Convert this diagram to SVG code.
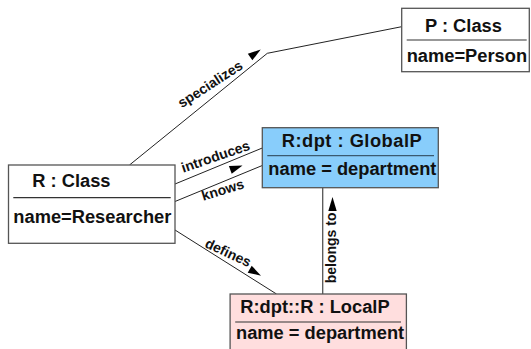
<svg xmlns="http://www.w3.org/2000/svg" width="531" height="349" viewBox="0 0 531 349">
<style>
.box{stroke:#555;stroke-width:1.3}
.sep{stroke:#333;stroke-width:1.2}
.t{font-family:"Liberation Sans",Arial,sans-serif;font-weight:bold;font-size:18.3px;fill:#111}
.lbl{font-family:"Liberation Sans",Arial,sans-serif;font-weight:bold;font-size:14px;fill:#111}
.ln{fill:none;stroke:#222;stroke-width:1}
.ah{fill:#000}
</style>
<rect width="531" height="349" fill="#fff"/>
<g id="connectors">
<polyline class="ln" points="129.5,165 267.3,53.3 401.7,26.7"/>
<line class="ln" x1="175" y1="184" x2="262.3" y2="148"/>
<line class="ln" x1="175" y1="201.5" x2="262.3" y2="165.5"/>
<line class="ln" x1="175" y1="230" x2="276.5" y2="294"/>
<line class="ln" x1="322.7" y1="187.7" x2="322.7" y2="294" style="stroke:#555;stroke-width:1.3"/>
<polygon class="ah" points="260.7,49.5 252.4,60.3 247.8,53.7"/>
<polygon class="ah" points="242.5,165.5 231.7,173.7 228.9,166.1"/>
<polygon class="ah" points="261,275.7 247.7,272.7 251.7,265.7"/>
<polygon class="ah" points="332.5,197 336.7,211 328.3,211"/>
<text class="lbl" transform="translate(181.7,108.3) rotate(-33)">specializes</text>
<text class="lbl" transform="translate(183.3,172.7) rotate(-19)">introduces</text>
<text class="lbl" transform="translate(203.3,200.7) rotate(-17)">knows</text>
<text class="lbl" transform="translate(204,246.7) rotate(25)">defines</text>
<text class="lbl" transform="translate(336,283.3) rotate(-90)">belongs to</text>
</g>
<g id="node-P">
<rect class="box" x="401.7" y="8.3" width="127.6" height="63.4" fill="#fff"/>
<line class="sep" x1="406.7" y1="40" x2="526.7" y2="40"/>
<text class="t" x="425" y="31.7">P : Class</text>
<text class="t" x="406.7" y="61.8">name=Person</text>
</g>
<g id="node-R">
<rect class="box" x="8.5" y="165" width="166.5" height="78.3" fill="#fff"/>
<line class="sep" x1="13.3" y1="197.7" x2="170.7" y2="197.7"/>
<text class="t" x="32.3" y="187.3">R : Class</text>
<text class="t" x="13.3" y="223.3">name=Researcher</text>
</g>
<g id="node-GlobalP">
<rect class="box" x="262.3" y="127.7" width="176" height="60" fill="#88cdfb"/>
<line class="sep" x1="267.3" y1="155.7" x2="434" y2="155.7" style="stroke:#3a5a70"/>
<text class="t" x="281.7" y="146.7" textLength="140" lengthAdjust="spacing">R:dpt : GlobalP</text>
<text class="t" x="268.3" y="175">name = department</text>
</g>
<g id="node-LocalP">
<rect class="box" x="230.1" y="294" width="176.3" height="60" fill="#ffdede"/>
<line class="sep" x1="235.2" y1="322" x2="401" y2="322"/>
<text class="t" x="240.3" y="313">R:dpt::R : LocalP</text>
<text class="t" x="236" y="339">name = department</text>
</g>
</svg>
